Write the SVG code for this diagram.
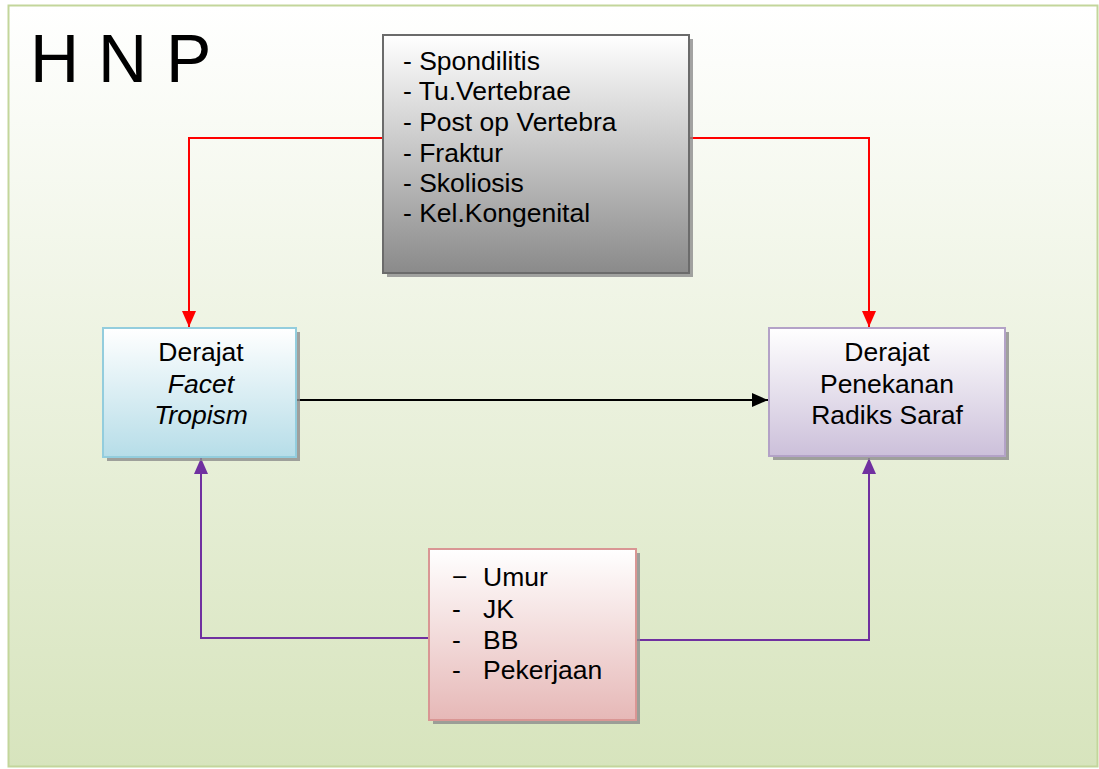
<svg xmlns="http://www.w3.org/2000/svg" width="1099" height="769" viewBox="0 0 1099 769">
<defs>
<linearGradient id="bg" x1="0" y1="0" x2="0" y2="1"><stop offset="0" stop-color="#ffffff"/><stop offset="1" stop-color="#d7e4bd"/></linearGradient>
<linearGradient id="gGray" x1="0" y1="0" x2="0" y2="1"><stop offset="0" stop-color="#ffffff"/><stop offset="1" stop-color="#8a8a8a"/></linearGradient>
<linearGradient id="gBlue" x1="0" y1="0" x2="0" y2="1"><stop offset="0" stop-color="#ffffff"/><stop offset="1" stop-color="#b6dde8"/></linearGradient>
<linearGradient id="gPurp" x1="0" y1="0" x2="0" y2="1"><stop offset="0" stop-color="#ffffff"/><stop offset="1" stop-color="#ccc0da"/></linearGradient>
<linearGradient id="gRed" x1="0" y1="0" x2="0" y2="1"><stop offset="0" stop-color="#ffffff"/><stop offset="1" stop-color="#e6b8b7"/></linearGradient>
<marker id="aR" viewBox="0 0 10 10" refX="10" refY="5" markerWidth="16" markerHeight="14" markerUnits="userSpaceOnUse" orient="auto" preserveAspectRatio="none"><path d="M0,0 L10,5 L0,10 Z" fill="#ff0000"/></marker>
<marker id="aK" viewBox="0 0 10 10" refX="10" refY="5" markerWidth="16" markerHeight="14" markerUnits="userSpaceOnUse" orient="auto" preserveAspectRatio="none"><path d="M0,0 L10,5 L0,10 Z" fill="#000000"/></marker>
<marker id="aP" viewBox="0 0 10 10" refX="10" refY="5" markerWidth="16" markerHeight="14" markerUnits="userSpaceOnUse" orient="auto" preserveAspectRatio="none"><path d="M0,0 L10,5 L0,10 Z" fill="#7030a0"/></marker>
</defs>
<style>
text{font-family:"Liberation Sans",Arial,sans-serif;fill:#000}
.t{font-size:26.5px}
.c{text-anchor:middle}
.sh{fill:#8c8c8c;opacity:0.8}
.ln{fill:none;stroke-width:2}
</style>
<rect x="0" y="0" width="1099" height="769" fill="#ffffff"/>
<rect x="8.5" y="5.5" width="1089" height="761" fill="url(#bg)" stroke="#c3d69b" stroke-width="2"/>
<text x="30" y="82" font-size="68">H N P</text>
<g id="connectors">
<path class="ln" d="M383,138 H189 V327" stroke="#ff0000" marker-end="url(#aR)"/>
<path class="ln" d="M689,138 H869 V327" stroke="#ff0000" marker-end="url(#aR)"/>
<path class="ln" d="M296,400 H768" stroke="#000000" marker-end="url(#aK)"/>
<path class="ln" d="M429,638 H201 V458" stroke="#7030a0" marker-end="url(#aP)"/>
<path class="ln" d="M636,640 H869 V458" stroke="#7030a0" marker-end="url(#aP)"/>
</g>
<g id="causes">
<rect class="sh" x="387" y="39" width="306" height="238"/>
<rect x="383" y="35" width="306" height="238" fill="url(#gGray)" stroke="#6b6b6b" stroke-width="2"/>
<text class="t" x="403" y="70">- Spondilitis</text>
<text class="t" x="403" y="100">- Tu.Vertebrae</text>
<text class="t" x="403" y="131">- Post op Vertebra</text>
<text class="t" x="403" y="162">- Fraktur</text>
<text class="t" x="403" y="192">- Skoliosis</text>
<text class="t" x="403" y="222">- Kel.Kongenital</text>
</g>
<g id="facet">
<rect class="sh" x="107" y="332" width="193" height="129"/>
<rect x="103" y="328" width="193" height="129" fill="url(#gBlue)" stroke="#93cddd" stroke-width="2"/>
<text class="t c" x="201" y="361">Derajat</text>
<text class="t c" x="201" y="393" font-style="italic">Facet</text>
<text class="t c" x="201" y="424" font-style="italic">Tropism</text>
</g>
<g id="radiks">
<rect class="sh" x="773" y="332" width="236" height="128"/>
<rect x="769" y="328" width="236" height="128" fill="url(#gPurp)" stroke="#b3a2c7" stroke-width="2"/>
<text class="t c" x="887" y="361">Derajat</text>
<text class="t c" x="887" y="393">Penekanan</text>
<text class="t c" x="887" y="424">Radiks Saraf</text>
</g>
<g id="factors">
<rect class="sh" x="433" y="553" width="207" height="171"/>
<rect x="429" y="549" width="207" height="171" fill="url(#gRed)" stroke="#d99694" stroke-width="2"/>
<text class="t" x="452" y="586">−</text>
<text class="t" x="483" y="586">Umur</text>
<text class="t" x="452" y="618">-</text>
<text class="t" x="483" y="618">JK</text>
<text class="t" x="452" y="649">-</text>
<text class="t" x="483" y="649">BB</text>
<text class="t" x="452" y="679">-</text>
<text class="t" x="483" y="679">Pekerjaan</text>
</g>
</svg>
